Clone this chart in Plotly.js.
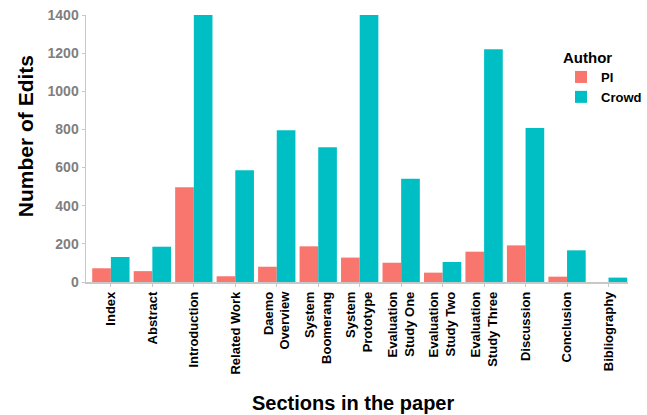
<!DOCTYPE html>
<html>
<head>
<meta charset="utf-8">
<script src="https://cdn.plot.ly/plotly-3.0.1.min.js"></script>
<style>html,body{margin:0;padding:0;background:#fff;}#chart{width:647px;height:415px;}</style>
</head>
<body>
<div id="chart"></div>
<script>
var sections = ["Index", "Abstract", "Introduction", "Related Work", "Daemo<br>Overview", "System<br>Boomerang", "System<br>Prototype", "Evaluation<br>Study One", "Evaluation<br>Study Two", "Evaluation<br>Study Three", "Discussion", "Conclusion", "Bibliography"];
var piEdits = [72, 57, 497, 30, 80, 187, 128, 101, 49, 159, 192, 28, 0];
var crowdEdits = [131, 185, 1400, 586, 796, 707, 1400, 541, 105, 1220, 807, 166, 23];
var yTicks = [0, 200, 400, 600, 800, 1000, 1200, 1400];

var FONT = "Liberation Sans, Arial, Helvetica, sans-serif";
var PL = 86, PT = 15, PW = 561, PH = 267;
function px(x) { return (x - PL) / PW; }
function py(y) { return (PT + PH - y) / PH; }

var traces = [
  {type: "bar", name: "PI", x: sections, y: piEdits, marker: {color: "#F8766D"}},
  {type: "bar", name: "Crowd", x: sections, y: crowdEdits, marker: {color: "#00BFC4"}}
];
var layout = {
  width: 647, height: 415,
  margin: {l: PL, r: 0, t: PT, b: 415 - PT - PH},
  paper_bgcolor: "#fff", plot_bgcolor: "#fff",
  barmode: "group", bargap: 0.1, bargroupgap: 0,
  font: {family: FONT},
  showlegend: true,
  legend: {
    x: px(578), y: py(62), xanchor: "left", yanchor: "top",
    bgcolor: "rgba(0,0,0,0)",
    font: {size: 13, color: "#000", weight: "bold"},
    itemwidth: 30
  },
  xaxis: {
    type: "category",
    range: [-0.6, 12.47],
    tickangle: -90,
    tickfont: {size: 13, color: "#000", weight: "bold"},
    showline: true, linecolor: "#c8c8c8", linewidth: 1.5,
    ticks: "outside", ticklen: 3, tickcolor: "#c8c8c8",
    showgrid: false, zeroline: false
  },
  yaxis: {
    range: [0, 1400],
    tickvals: yTicks,
    tickfont: {size: 14, color: "#7f7f7f", weight: "bold"},
    showline: true, linecolor: "#c8c8c8", linewidth: 1.5,
    ticks: "outside", ticklen: 3, tickcolor: "#c8c8c8",
    showgrid: false, zeroline: false
  },
  annotations: [
    {text: "Sections in the paper", xref: "paper", yref: "paper",
     x: px(362), y: py(403), xanchor: "center", yanchor: "middle",
     showarrow: false, font: {size: 20, color: "#000", weight: "bold", family: FONT}},
    {text: "Number of Edits", xref: "paper", yref: "paper", textangle: -90,
     x: px(23), y: py(136), xanchor: "center", yanchor: "middle",
     showarrow: false, font: {size: 21, color: "#000", weight: "bold", family: FONT}},
    {text: "Author", xref: "paper", yref: "paper",
     x: px(578), y: py(57), xanchor: "left", yanchor: "middle",
     showarrow: false, font: {size: 15, color: "#000", weight: "bold", family: FONT}}
  ]
};
Plotly.newPlot("chart", traces, layout, {staticPlot: true, displayModeBar: false});
</script>
</body>
</html>
